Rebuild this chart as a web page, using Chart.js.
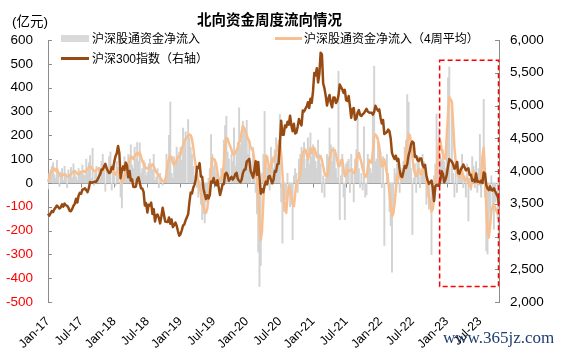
<!DOCTYPE html>
<html>
<head>
<meta charset="utf-8">
<script src="https://cdn.jsdelivr.net/npm/chart.js@4.4.1/dist/chart.umd.min.js"></script>
<style>
  body { margin: 0; background: #fff; }
  #wrap { position: relative; width: 563px; height: 352px; overflow: hidden; font-family: "Liberation Sans", "Noto Sans CJK SC", sans-serif; color: #000; }
  #wrap canvas { position: absolute; left: 0; top: 0; }
  .txt { position: absolute; white-space: nowrap; line-height: 1; }
  #title { left: 197px; top: 12px; font-size: 14.5px; font-weight: bold; font-family: "Noto Sans CJK SC", sans-serif; }
  #unit { left: 12px; top: 15px; font-size: 13.5px; }
  .leg { font-size: 12px; }
  .sw { position: absolute; }
  #mark { left: 443px; top: 329px; font-family: "Liberation Serif", serif; font-size: 17px; color: #1f3d70; }
</style>
</head>
<body>
<div id="wrap">
  <canvas id="flow-chart" width="563" height="352"></canvas>
  <div class="txt" id="title">北向资金周度流向情况</div>
  <div class="txt" id="unit">(亿元)</div>
  <div class="sw" style="left:61px;top:35px;width:28px;height:7px;background:#d9d9d9"></div>
  <div class="txt leg" style="left:92px;top:33px">沪深股通资金净流入</div>
  <div class="sw" style="left:275px;top:37px;width:27px;height:3px;background:#f8c091"></div>
  <div class="txt leg" style="left:304px;top:33px">沪深股通资金净流入（4周平均）</div>
  <div class="sw" style="left:61px;top:57px;width:28px;height:3px;background:#974b12"></div>
  <div class="txt leg" style="left:92px;top:53px">沪深300指数（右轴）</div>
  <div class="txt" id="mark">www.365jz.com</div>
</div>
<script>
// weekly data, one point per Friday starting 2017-01-06 (null = market closed that week)
const firstFriday = [2017, 0, 6];

// CSI 300 index weekly close (right axis)
const csi300 = [
  3347, 3319, 3354, 3387, 3373, 3415, 3443, 3473, 3452, 3427, 3445, 3490, 3456, 3503, 3475, 3471, 3439, 3393, 3385, 3422, 3469, 3498, 3576, 3518, 3622, 3666, 3651, 3715, 3722, 3737, 3708, 3676, 3734, 3832, 3822, 3825, 3832, 3838, 3836, null, 3914, 3952, 4022, 4022, 4071, 4110, 4047, 3998, 3970, 3980, 4055, 4031,
  4139, 4225, 4272, 4382, 4271, 3891, 4003, 4071, 4016, 4128, 4085, 3904, 4000, 3853, 3871, 3760, 3756, 3763, 3873, 3904, 3826, 3735, 3732, 3684, 3475, 3510, 3366, 3484, 3475, 3517, 3343, 3418, 3229, 3325, 3335, 3287, 3200, 3310, 3438, null, 3230, 3224, 3222, 3290, 3195, 3260, 3143, 3172, 3213, 3165, 3083, 3011,
  3036, 3094, 3168, 3184, 3247, null, 3338, 3520, 3670, 3657, 3745, 3792, 3873, 4063, 4043, 4120, 3913, 3913, 3734, 3649, 3573, 3629, 3581, 3631, 3838, 3825, 3893, 3808, 3783, 3858, 3747, 3633, 3702, 3798, 3799, 3948, 3972, 3935, 3852, null, 3911, 3869, 3896, 3952, 3973, 3877, 3849, 3828, 3871, 3968, 4018, 4022,
  4144, 4164, 4186, 4003, null, 3899, 4016, 4149, 3940, 4138, 3895, 3653, 3722, 3675, 3778, 3838, 3796, 3912, 3926, 3867, 3813, 3867, 3999, 3990, 4099, 4112, 4404, 4769, 4554, 4553, 4695, 4669, 4751, 4705, 4844, 4697, 4609, 4720, 4571, 4587, 4681, 4793, 4737, 4695, 4925, 4910, 4947, 4981, 5049, 4962, 5104, 5042,
  5211, 5495, 5458, 5570, 5351, 5483, 5807, 5779, 5336, 5262, 5146, 5000, 5102, 5161, 5035, 4973, 5123, 5123, 5037, 5070, 5152, 5321, 5282, 5248, 5193, 5239, 5082, 5069, 5144, 4990, 4811, 4945, 4962, 4783, 4801, 4888, 4930, 4855, 4839, 4866, 4884, 4916, 4949, 4908, 4893, 4888, 4890, 4860, 4901, 4996, 4954, 4921, 4940,
  4818, 4726, 4779, 4564, null, 4594, 4633, 4607, 4496, 4276, 4223, 4185, 4234, 4152, 4187, 4017, 3922, 3908, 3988, 4077, 4048, 4109, 4239, 4308, 4411, 4450, 4429, 4215, 4229, 4170, 4152, 4191, 4192, 4097, 4056, 4095, 3932, 3856, 3804, null, 3855, 3747, 3541, 3767, 3788, 3775, 3776, 3870, 3998, 3954, 3828, 3872,
  3942, 4074, 4182, null, 4143, 4106, 4034, 4061, 4138, 3967, 3958, 4025, 4051, 4100, 4058, 4010, 4029, 4040, 3939, 3944, 3851, 3864, 3837, 3963, 3835, 3842, 3826, 3853, 3816, 3979, 3960, 3785, 3733, 3709, 3765, 3710, 3703, 3737, 3690, null, 3608, 3490
];

// weekly northbound net inflow, 亿元 (bars)
const flowWeekly = [
  -25, 40, 55, 70, 85, 35, 20, 95, 30, -15, 45, 60, 10, 70, 40, -20, 55, 30, 65, 20, 80, 45, 25, 10, 60, 50, 40, 75, 35, 30, 100, 45, 85, 115, 20, 145, -10, 40, 70, null, 60, 20, 90, 120, 55, -35, 65, 40, 110, 130, -30, 50,
  70, -10, 90, 65, 5, -60, -105, 30, 110, 85, 40, 120, 95, 160, 75, 60, 150, 100, 170, 90, 168, 40, 60, 95, 85, 30, 45, 80, 100, 70, 55, 120, 10, 25, 60, -20, 40, 5, -10, null, 20, 120, 60, 200, 340, 40, 20, 110, 70, 150, 90, 130,
  150, 95, 230, 170, 215, null, 266, 190, 150, 120, 70, 30, 45, -20, -60, 10, -90, -154, -130, -168, -80, -50, 20, 60, 203, 120, 70, 85, 40, -10, 15, 5, 60, 40, 180, 240, 280, 130, 100, null, 120, 90, 231, 70, 140, 170, 315, 160, 180, 259, 230, 200,
  263, 120, 180, 90, null, 150, 60, -40, -130, -290, -435, -347, 40, 120, 300, 90, 60, 70, -30, 150, 110, 60, 140, 190, 120, 180, 287, -80, -253, -120, -60, -70, 40, -20, -100, -90, -238, 30, 60, 40, -40, 100, 120, 150, 130, 170, 60, 100, 189, 80, 210, 110,
  160, 130, 90, 60, 180, 120, 80, -40, 30, -60, 20, 120, 110, 231, 160, 90, 150, 140, 60, 20, 469, -154, 30, 120, -60, -154, 80, 90, 100, -40, 120, 60, -80, 100, 140, 300, 60, -20, 40, -30, 236, -60, -50, 120, 100, 60, 40, 300, 490, 90, 100, 190, 130,
  130, -20, 110, -263, null, 120, 40, -120, -180, -375, -90, 60, 40, 80, 50, -40, 30, 60, 90, 150, 180, 371, 338, 120, 60, -217, 20, 80, -40, 100, 110, -20, 60, 120, 90, 40, -90, -60, -110, null, -301, -100, 30, 80, 289, 150, 230, 110, 100, 140, 90, 60,
  150, 441, 487, null, 330, 40, -60, 60, -40, 90, 50, 70, 120, -20, 30, -60, 80, -160, 20, -30, 110, 70, -20, 90, -40, 60, 204, -60, 40, 351, -60, -285, -299, -180, -120, 30, -110, -195, -80, null, -150, -240
];

// 4-week average of the net inflow, 亿元
const flow4wAvg = [
  5, 20, 38, 52, 62, 60, 50, 58, 45, 32, 28, 30, 36, 34, 30, 27, 28, 33, 38, 44, 48, 50, 45, 38, 35, 40, 45, 48, 50, 46, 50, 58, 65, 70, 66, 58, 50, 48, 55, null, 62, 55, 48, 50, 62, 70, 62, 50, 45, 55, 72, 60,
  40, 35, 45, 55, 40, 15, 2, 8, 30, 50, 68, 78, 95, 112, 108, 100, 112, 120, 126, 118, 128, 110, 92, 80, 70, 63, 60, 62, 70, 75, 78, 70, 55, 45, 38, 30, 22, 15, 8, null, 5, 40, 85, 100, 112, 108, 85, 75, 80, 95, 110, 110,
  120, 140, 160, 175, 185, null, 198, 203, 200, 185, 150, 105, 70, 35, 5, -14, -45, -78, -100, -118, -126, -110, -60, 0, 60, 105, 100, 96, 80, 45, 15, 10, 20, 30, 80, 150, 189, 185, 168, null, 140, 120, 118, 128, 135, 150, 170, 180, 215, 240, 230, 215,
  200, 185, 175, 150, null, 133, 95, 49, 10, -60, -150, -240, -200, -80, 40, 115, 110, 80, 45, 70, 98, 90, 110, 125, 140, 160, 180, 120, 40, -40, -110, -126, -60, -14, -30, -56, -80, -98, -50, 0, 10, 14, 40, 90, 126, 135, 140, 120, 98, 120, 147, 125,
  140, 147, 130, 110, 105, 110, 112, 95, 70, 42, 30, 28, 50, 95, 125, 140, 138, 137, 120, 95, 70, 72, 95, 98, 60, 28, 35, 55, 50, 52, 56, 48, 42, 45, 80, 120, 126, 105, 85, 60, 40, 25, 28, 60, 95, 90, 84, 130, 195, 203, 196, 180, 154,
  100, 70, 75, 98, null, 42, 10, -42, -90, -140, -130, -90, -30, 20, 42, 25, 14, 25, 42, 80, 130, 168, 205, 200, 168, 110, 60, 40, 28, 45, 60, 42, 35, 50, 75, 60, 20, -20, -56, null, -120, -110, -70, -20, 50, 110, 182, 175, 140, 120, 105, 100,
  200, 290, 360, null, 340, 250, 148, 90, 50, 30, 22, 35, 50, 30, 8, 15, 22, 5, -10, -20, 15, 50, 40, 22, 10, -6, 0, 30, 110, 148, 40, -100, -200, -229, -180, -120, -100, -90, -104, null, -131, -115
];

const tickText = ['Jan-17', 'Jul-17', 'Jan-18', 'Jul-18', 'Jan-19', 'Jul-19', 'Jan-20', 'Jul-20', 'Jan-21', 'Jul-21', 'Jan-22', 'Jul-22', 'Jan-23', 'Jul-23'];

// highlighted recent period (red dashed frame), in data terms
const focusStart = '2022-11-25';
const focusTop = 515, focusBottom = -435;

const weekLabels = csi300.map((_, i) => {
  const d = new Date(Date.UTC(firstFriday[0], firstFriday[1], firstFriday[2] + 7 * i));
  return d.toISOString().slice(0, 10);
});
const tickIdx = tickText.map(t => {
  const [mon, yy] = t.split('-');
  const start = '20' + yy + (mon === 'Jan' ? '-01-01' : '-07-01');
  return weekLabels.findIndex(d => d >= start);
});

const axisGrey = '#8c8c8c';

const decorations = {
  id: 'decorations',
  beforeDatasetsDraw(chart) {
    const { ctx, chartArea, scales } = chart;
    const y0 = Math.round(scales.y.getPixelForValue(0)) + 0.5;
    ctx.save();
    ctx.strokeStyle = axisGrey;
    ctx.lineWidth = 1;
    ctx.beginPath();
    ctx.moveTo(chartArea.left, y0);
    ctx.lineTo(chartArea.right, y0);
    tickIdx.forEach(i => {
      const px = Math.round(scales.x.getPixelForValue(i)) + 0.5;
      ctx.moveTo(px, y0);
      ctx.lineTo(px, y0 + 4);
    });
    ctx.stroke();
    ctx.restore();
  },
  afterDraw(chart) {
    const { ctx, chartArea, scales } = chart;
    ctx.save();
    ctx.strokeStyle = axisGrey;
    ctx.lineWidth = 1;
    ctx.beginPath();
    scales.y.ticks.forEach(t => {
      const py = Math.round(scales.y.getPixelForValue(t.value)) + 0.5;
      ctx.moveTo(chartArea.left, py);
      ctx.lineTo(chartArea.left + 4, py);
    });
    scales.y1.ticks.forEach(t => {
      const py = Math.round(scales.y1.getPixelForValue(t.value)) + 0.5;
      ctx.moveTo(chartArea.right, py);
      ctx.lineTo(chartArea.right - 4, py);
    });
    ctx.stroke();

    // red dashed frame round the latest period
    const i0 = weekLabels.findIndex(d => d >= focusStart);
    const x0 = scales.x.getPixelForValue(i0) + 0.5;
    const x1 = chartArea.right - 0.5;
    const yt = scales.y.getPixelForValue(focusTop);
    const yb = scales.y.getPixelForValue(focusBottom);
    ctx.strokeStyle = '#ff0000';
    ctx.lineWidth = 1.5;
    ctx.setLineDash([5, 3]);
    ctx.strokeRect(x0, yt, x1 - x0, yb - yt);
    ctx.restore();
  }
};

Chart.defaults.font.family = '"Liberation Sans", Arial, sans-serif';
Chart.defaults.color = '#000';

new Chart(document.getElementById('flow-chart'), {
  type: 'bar',
  data: {
    labels: weekLabels,
    datasets: [
      {
        type: 'line',
        label: '沪深300指数（右轴）',
        data: csi300,
        yAxisID: 'y1',
        borderColor: '#974b12',
        borderWidth: 2.5,
        pointRadius: 0,
        spanGaps: true,
        borderJoinStyle: 'round',
        order: 1
      },
      {
        type: 'line',
        label: '沪深股通资金净流入（4周平均）',
        data: flow4wAvg,
        yAxisID: 'y',
        borderColor: '#f8c091',
        borderWidth: 2.5,
        pointRadius: 0,
        spanGaps: true,
        borderJoinStyle: 'round',
        order: 2
      },
      {
        label: '沪深股通资金净流入',
        data: flowWeekly,
        yAxisID: 'y',
        backgroundColor: '#d3d3d3',
        barPercentage: 1,
        categoryPercentage: 1,
        order: 3
      }
    ]
  },
  options: {
    responsive: false,
    animation: false,
    devicePixelRatio: 1,
    layout: { padding: { top: 40, left: 0, right: 0, bottom: 0 } },
    plugins: { legend: { display: false }, tooltip: { enabled: false } },
    scales: {
      x: {
        offset: false,
        grid: { display: false, drawTicks: false },
        border: { display: false },
        ticks: {
          autoSkip: false,
          minRotation: 45,
          maxRotation: 45,
          padding: 12,
          font: { size: 12.5 },
          callback: v => tickText[tickIdx.indexOf(v)]
        },
        afterBuildTicks: s => { s.ticks = tickIdx.map(i => ({ value: i })); },
        afterFit: s => { s.height = 50; }
      },
      y: {
        position: 'left',
        min: -500,
        max: 600,
        grid: { display: false, drawTicks: false },
        border: { display: true, color: axisGrey },
        ticks: {
          stepSize: 100,
          padding: 15,
          font: { size: 13.5 },
          color: c => (c.tick.value < 0 ? '#ff0000' : '#000')
        },
        afterFit: s => { s.width = 48; }
      },
      y1: {
        position: 'right',
        min: 2000,
        max: 6000,
        grid: { display: false, drawTicks: false },
        border: { display: true, color: axisGrey },
        ticks: {
          stepSize: 500,
          padding: 11,
          font: { size: 13.5 },
          callback: v => v.toLocaleString('en-US')
        },
        afterFit: s => { s.width = 64; }
      }
    }
  },
  plugins: [decorations]
});
</script>
</body>
</html>
